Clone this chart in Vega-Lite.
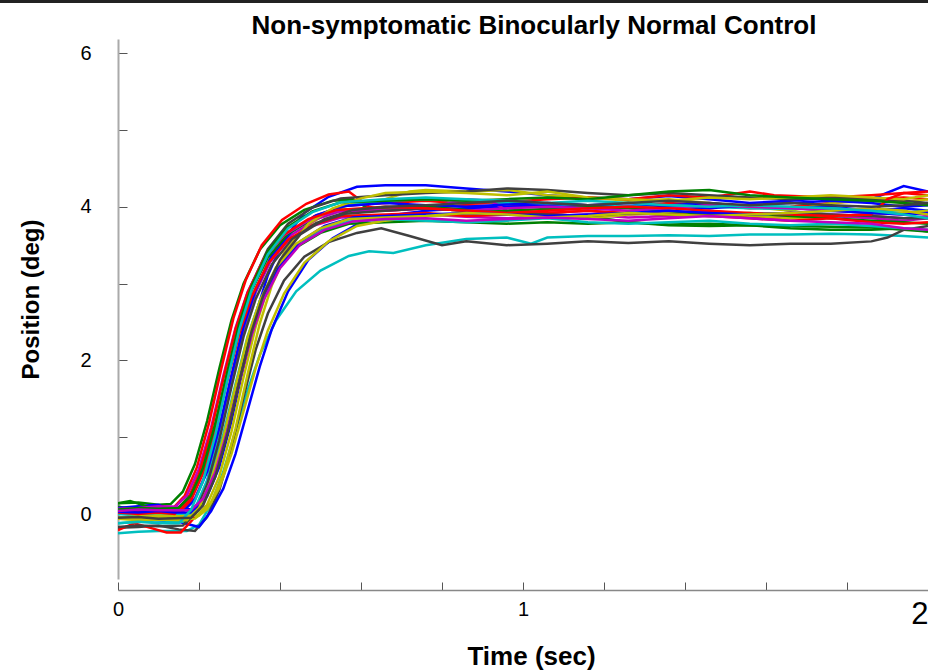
{
"$schema":"https://vega.github.io/schema/vega-lite/v6.json",
"width":810,"height":540,"autosize":"none",
"padding":{"left":118,"top":39,"right":0,"bottom":91},
"background":"white",
"config":{"view":{"stroke":null},"font":"Liberation Sans"},
"title":{"text":"Non-symptomatic Binocularly Normal Control","font":"Liberation Sans","fontSize":26,"fontWeight":"bold","color":"black","anchor":"middle","frame":"group","offset":5,"dx":11,"dy":44},
"datasets":{"traces":[
{"s":1,"c":"b","t":0,"y":0.06},{"s":1,"c":"b","t":0.05,"y":0.07},{"s":1,"c":"b","t":0.1,"y":0.05},{"s":1,"c":"b","t":0.15,"y":0.07},{"s":1,"c":"b","t":0.19,"y":0.06},{"s":1,"c":"b","t":0.22,"y":0.23},{"s":1,"c":"b","t":0.25,"y":0.61},{"s":1,"c":"b","t":0.28,"y":1.21},{"s":1,"c":"b","t":0.31,"y":1.93},{"s":1,"c":"b","t":0.34,"y":2.6},{"s":1,"c":"b","t":0.37,"y":3.11},{"s":1,"c":"b","t":0.41,"y":3.58},{"s":1,"c":"b","t":0.46,"y":3.92},{"s":1,"c":"b","t":0.52,"y":4.13},{"s":1,"c":"b","t":0.59,"y":4.26},{"s":1,"c":"b","t":0.66,"y":4.28},{"s":1,"c":"b","t":0.76,"y":4.28},{"s":1,"c":"b","t":0.86,"y":4.24},{"s":1,"c":"b","t":0.96,"y":4.2},{"s":1,"c":"b","t":1.06,"y":4.15},{"s":1,"c":"b","t":1.16,"y":4.12},{"s":1,"c":"b","t":1.26,"y":4.1},{"s":1,"c":"b","t":1.36,"y":4.14},{"s":1,"c":"b","t":1.46,"y":4.1},{"s":1,"c":"b","t":1.56,"y":4.05},{"s":1,"c":"b","t":1.66,"y":4.08},{"s":1,"c":"b","t":1.76,"y":4.12},{"s":1,"c":"b","t":1.86,"y":4.1},{"s":1,"c":"b","t":1.94,"y":4.27},{"s":1,"c":"b","t":2.0,"y":4.2},
{"s":2,"c":"g","t":0,"y":0.14},{"s":2,"c":"g","t":0.05,"y":0.15},{"s":2,"c":"g","t":0.1,"y":0.12},{"s":2,"c":"g","t":0.13,"y":0.13},{"s":2,"c":"g","t":0.16,"y":0.29},{"s":2,"c":"g","t":0.19,"y":0.65},{"s":2,"c":"g","t":0.22,"y":1.21},{"s":2,"c":"g","t":0.25,"y":1.89},{"s":2,"c":"g","t":0.28,"y":2.52},{"s":2,"c":"g","t":0.31,"y":3.0},{"s":2,"c":"g","t":0.35,"y":3.44},{"s":2,"c":"g","t":0.4,"y":3.76},{"s":2,"c":"g","t":0.46,"y":3.96},{"s":2,"c":"g","t":0.53,"y":4.08},{"s":2,"c":"g","t":0.58,"y":4.1},{"s":2,"c":"g","t":0.62,"y":3.97},{"s":2,"c":"g","t":0.66,"y":3.96},{"s":2,"c":"g","t":0.76,"y":3.98},{"s":2,"c":"g","t":0.86,"y":3.95},{"s":2,"c":"g","t":0.96,"y":3.92},{"s":2,"c":"g","t":1.06,"y":3.9},{"s":2,"c":"g","t":1.16,"y":3.88},{"s":2,"c":"g","t":1.26,"y":3.8},{"s":2,"c":"g","t":1.36,"y":3.76},{"s":2,"c":"g","t":1.46,"y":3.75},{"s":2,"c":"g","t":1.56,"y":3.76},{"s":2,"c":"g","t":1.66,"y":3.75},{"s":2,"c":"g","t":1.76,"y":3.74},{"s":2,"c":"g","t":1.86,"y":3.73},{"s":2,"c":"g","t":1.94,"y":3.7},{"s":2,"c":"g","t":2.0,"y":3.68},
{"s":3,"c":"r","t":0,"y":0.07},{"s":3,"c":"r","t":0.05,"y":0.08},{"s":3,"c":"r","t":0.1,"y":0.09},{"s":3,"c":"r","t":0.135,"y":0.07},{"s":3,"c":"r","t":0.165,"y":0.24},{"s":3,"c":"r","t":0.195,"y":0.61},{"s":3,"c":"r","t":0.225,"y":1.19},{"s":3,"c":"r","t":0.255,"y":1.89},{"s":3,"c":"r","t":0.285,"y":2.55},{"s":3,"c":"r","t":0.315,"y":3.04},{"s":3,"c":"r","t":0.355,"y":3.5},{"s":3,"c":"r","t":0.405,"y":3.83},{"s":3,"c":"r","t":0.465,"y":4.04},{"s":3,"c":"r","t":0.52,"y":4.16},{"s":3,"c":"r","t":0.57,"y":4.2},{"s":3,"c":"r","t":0.62,"y":4.0},{"s":3,"c":"r","t":0.66,"y":3.95},{"s":3,"c":"r","t":0.76,"y":3.98},{"s":3,"c":"r","t":0.86,"y":4.02},{"s":3,"c":"r","t":0.96,"y":4.0},{"s":3,"c":"r","t":1.06,"y":4.05},{"s":3,"c":"r","t":1.16,"y":4.02},{"s":3,"c":"r","t":1.26,"y":4.0},{"s":3,"c":"r","t":1.36,"y":4.05},{"s":3,"c":"r","t":1.46,"y":4.02},{"s":3,"c":"r","t":1.56,"y":3.98},{"s":3,"c":"r","t":1.66,"y":4.0},{"s":3,"c":"r","t":1.76,"y":4.05},{"s":3,"c":"r","t":1.86,"y":4.1},{"s":3,"c":"r","t":1.94,"y":4.12},{"s":3,"c":"r","t":2.0,"y":4.1},
{"s":4,"c":"c","t":0,"y":-0.25},{"s":4,"c":"c","t":0.05,"y":-0.23},{"s":4,"c":"c","t":0.1,"y":-0.22},{"s":4,"c":"c","t":0.17,"y":-0.22},{"s":4,"c":"c","t":0.2,"y":-0.14},{"s":4,"c":"c","t":0.23,"y":0.13},{"s":4,"c":"c","t":0.26,"y":0.55},{"s":4,"c":"c","t":0.29,"y":1.08},{"s":4,"c":"c","t":0.32,"y":1.61},{"s":4,"c":"c","t":0.35,"y":2.07},{"s":4,"c":"c","t":0.39,"y":2.52},{"s":4,"c":"c","t":0.44,"y":2.9},{"s":4,"c":"c","t":0.5,"y":3.17},{"s":4,"c":"c","t":0.57,"y":3.36},{"s":4,"c":"c","t":0.62,"y":3.42},{"s":4,"c":"c","t":0.68,"y":3.4},{"s":4,"c":"c","t":0.76,"y":3.5},{"s":4,"c":"c","t":0.86,"y":3.58},{"s":4,"c":"c","t":0.96,"y":3.6},{"s":4,"c":"c","t":1.02,"y":3.52},{"s":4,"c":"c","t":1.06,"y":3.6},{"s":4,"c":"c","t":1.16,"y":3.62},{"s":4,"c":"c","t":1.26,"y":3.62},{"s":4,"c":"c","t":1.36,"y":3.63},{"s":4,"c":"c","t":1.46,"y":3.62},{"s":4,"c":"c","t":1.56,"y":3.64},{"s":4,"c":"c","t":1.66,"y":3.64},{"s":4,"c":"c","t":1.76,"y":3.65},{"s":4,"c":"c","t":1.86,"y":3.64},{"s":4,"c":"c","t":1.94,"y":3.62},{"s":4,"c":"c","t":2.0,"y":3.6},
{"s":5,"c":"m","t":0,"y":0.08},{"s":5,"c":"m","t":0.05,"y":0.09},{"s":5,"c":"m","t":0.1,"y":0.1},{"s":5,"c":"m","t":0.15,"y":0.09},{"s":5,"c":"m","t":0.18,"y":0.23},{"s":5,"c":"m","t":0.21,"y":0.58},{"s":5,"c":"m","t":0.24,"y":1.11},{"s":5,"c":"m","t":0.27,"y":1.76},{"s":5,"c":"m","t":0.3,"y":2.37},{"s":5,"c":"m","t":0.33,"y":2.83},{"s":5,"c":"m","t":0.37,"y":3.25},{"s":5,"c":"m","t":0.42,"y":3.56},{"s":5,"c":"m","t":0.48,"y":3.75},{"s":5,"c":"m","t":0.55,"y":3.86},{"s":5,"c":"m","t":0.66,"y":3.88},{"s":5,"c":"m","t":0.76,"y":3.9},{"s":5,"c":"m","t":0.86,"y":3.87},{"s":5,"c":"m","t":0.96,"y":3.85},{"s":5,"c":"m","t":1.06,"y":3.88},{"s":5,"c":"m","t":1.16,"y":3.9},{"s":5,"c":"m","t":1.26,"y":3.86},{"s":5,"c":"m","t":1.36,"y":3.88},{"s":5,"c":"m","t":1.46,"y":3.9},{"s":5,"c":"m","t":1.56,"y":3.87},{"s":5,"c":"m","t":1.66,"y":3.86},{"s":5,"c":"m","t":1.76,"y":3.88},{"s":5,"c":"m","t":1.86,"y":3.85},{"s":5,"c":"m","t":1.94,"y":3.82},{"s":5,"c":"m","t":2.0,"y":3.85},
{"s":6,"c":"y","t":0,"y":-0.05},{"s":6,"c":"y","t":0.05,"y":-0.04},{"s":6,"c":"y","t":0.1,"y":-0.06},{"s":6,"c":"y","t":0.19,"y":-0.05},{"s":6,"c":"y","t":0.22,"y":0.12},{"s":6,"c":"y","t":0.25,"y":0.49},{"s":6,"c":"y","t":0.28,"y":1.07},{"s":6,"c":"y","t":0.31,"y":1.78},{"s":6,"c":"y","t":0.34,"y":2.44},{"s":6,"c":"y","t":0.37,"y":2.94},{"s":6,"c":"y","t":0.41,"y":3.4},{"s":6,"c":"y","t":0.46,"y":3.73},{"s":6,"c":"y","t":0.52,"y":3.93},{"s":6,"c":"y","t":0.59,"y":4.06},{"s":6,"c":"y","t":0.66,"y":4.1},{"s":6,"c":"y","t":0.72,"y":4.2},{"s":6,"c":"y","t":0.76,"y":4.22},{"s":6,"c":"y","t":0.86,"y":4.2},{"s":6,"c":"y","t":0.96,"y":4.22},{"s":6,"c":"y","t":1.06,"y":4.15},{"s":6,"c":"y","t":1.16,"y":4.12},{"s":6,"c":"y","t":1.26,"y":4.08},{"s":6,"c":"y","t":1.36,"y":4.1},{"s":6,"c":"y","t":1.46,"y":4.05},{"s":6,"c":"y","t":1.56,"y":4.0},{"s":6,"c":"y","t":1.66,"y":3.95},{"s":6,"c":"y","t":1.76,"y":4.05},{"s":6,"c":"y","t":1.86,"y":4.08},{"s":6,"c":"y","t":1.94,"y":4.06},{"s":6,"c":"y","t":2.0,"y":4.1},
{"s":7,"c":"k","t":0,"y":-0.18},{"s":7,"c":"k","t":0.05,"y":-0.17},{"s":7,"c":"k","t":0.1,"y":-0.15},{"s":7,"c":"k","t":0.15,"y":-0.2},{"s":7,"c":"k","t":0.19,"y":-0.22},{"s":7,"c":"k","t":0.22,"y":-0.04},{"s":7,"c":"k","t":0.25,"y":0.31},{"s":7,"c":"k","t":0.28,"y":0.85},{"s":7,"c":"k","t":0.31,"y":1.52},{"s":7,"c":"k","t":0.34,"y":2.14},{"s":7,"c":"k","t":0.37,"y":2.61},{"s":7,"c":"k","t":0.41,"y":3.04},{"s":7,"c":"k","t":0.46,"y":3.35},{"s":7,"c":"k","t":0.52,"y":3.54},{"s":7,"c":"k","t":0.59,"y":3.66},{"s":7,"c":"k","t":0.65,"y":3.72},{"s":7,"c":"k","t":0.72,"y":3.62},{"s":7,"c":"k","t":0.8,"y":3.5},{"s":7,"c":"k","t":0.86,"y":3.55},{"s":7,"c":"k","t":0.96,"y":3.5},{"s":7,"c":"k","t":1.06,"y":3.52},{"s":7,"c":"k","t":1.16,"y":3.55},{"s":7,"c":"k","t":1.26,"y":3.53},{"s":7,"c":"k","t":1.36,"y":3.55},{"s":7,"c":"k","t":1.46,"y":3.52},{"s":7,"c":"k","t":1.56,"y":3.5},{"s":7,"c":"k","t":1.66,"y":3.52},{"s":7,"c":"k","t":1.76,"y":3.52},{"s":7,"c":"k","t":1.86,"y":3.55},{"s":7,"c":"k","t":1.9,"y":3.6},{"s":7,"c":"k","t":1.94,"y":3.7},{"s":7,"c":"k","t":2.0,"y":3.75},
{"s":8,"c":"b","t":0,"y":-0.05},{"s":8,"c":"b","t":0.05,"y":-0.06},{"s":8,"c":"b","t":0.1,"y":-0.08},{"s":8,"c":"b","t":0.15,"y":-0.1},{"s":8,"c":"b","t":0.2,"y":-0.17},{"s":8,"c":"b","t":0.23,"y":0.04},{"s":8,"c":"b","t":0.26,"y":0.33},{"s":8,"c":"b","t":0.29,"y":0.78},{"s":8,"c":"b","t":0.32,"y":1.35},{"s":8,"c":"b","t":0.35,"y":1.92},{"s":8,"c":"b","t":0.38,"y":2.41},{"s":8,"c":"b","t":0.42,"y":2.9},{"s":8,"c":"b","t":0.47,"y":3.31},{"s":8,"c":"b","t":0.53,"y":3.59},{"s":8,"c":"b","t":0.6,"y":3.8},{"s":8,"c":"b","t":0.66,"y":3.88},{"s":8,"c":"b","t":0.76,"y":3.95},{"s":8,"c":"b","t":0.86,"y":3.98},{"s":8,"c":"b","t":0.96,"y":4.0},{"s":8,"c":"b","t":1.06,"y":4.02},{"s":8,"c":"b","t":1.16,"y":3.98},{"s":8,"c":"b","t":1.26,"y":4.0},{"s":8,"c":"b","t":1.36,"y":4.02},{"s":8,"c":"b","t":1.46,"y":4.05},{"s":8,"c":"b","t":1.56,"y":4.0},{"s":8,"c":"b","t":1.66,"y":3.98},{"s":8,"c":"b","t":1.76,"y":4.0},{"s":8,"c":"b","t":1.86,"y":3.95},{"s":8,"c":"b","t":1.94,"y":3.98},{"s":8,"c":"b","t":2.0,"y":3.95},
{"s":9,"c":"g","t":0,"y":0.1},{"s":9,"c":"g","t":0.05,"y":0.04},{"s":9,"c":"g","t":0.1,"y":0.05},{"s":9,"c":"g","t":0.14,"y":-0.1},{"s":9,"c":"g","t":0.17,"y":-0.1},{"s":9,"c":"g","t":0.2,"y":0.06},{"s":9,"c":"g","t":0.23,"y":0.41},{"s":9,"c":"g","t":0.26,"y":0.96},{"s":9,"c":"g","t":0.29,"y":1.63},{"s":9,"c":"g","t":0.32,"y":2.25},{"s":9,"c":"g","t":0.35,"y":2.72},{"s":9,"c":"g","t":0.39,"y":3.15},{"s":9,"c":"g","t":0.44,"y":3.47},{"s":9,"c":"g","t":0.5,"y":3.66},{"s":9,"c":"g","t":0.57,"y":3.78},{"s":9,"c":"g","t":0.66,"y":3.8},{"s":9,"c":"g","t":0.76,"y":3.82},{"s":9,"c":"g","t":0.86,"y":3.8},{"s":9,"c":"g","t":0.96,"y":3.78},{"s":9,"c":"g","t":1.06,"y":3.8},{"s":9,"c":"g","t":1.16,"y":3.78},{"s":9,"c":"g","t":1.26,"y":3.8},{"s":9,"c":"g","t":1.36,"y":3.77},{"s":9,"c":"g","t":1.46,"y":3.78},{"s":9,"c":"g","t":1.56,"y":3.76},{"s":9,"c":"g","t":1.66,"y":3.72},{"s":9,"c":"g","t":1.76,"y":3.7},{"s":9,"c":"g","t":1.86,"y":3.7},{"s":9,"c":"g","t":1.94,"y":3.72},{"s":9,"c":"g","t":2.0,"y":3.68},
{"s":10,"c":"r","t":0,"y":-0.21},{"s":10,"c":"r","t":0.04,"y":-0.12},{"s":10,"c":"r","t":0.08,"y":-0.18},{"s":10,"c":"r","t":0.12,"y":-0.24},{"s":10,"c":"r","t":0.155,"y":-0.24},{"s":10,"c":"r","t":0.185,"y":-0.07},{"s":10,"c":"r","t":0.215,"y":0.32},{"s":10,"c":"r","t":0.245,"y":0.92},{"s":10,"c":"r","t":0.275,"y":1.65},{"s":10,"c":"r","t":0.305,"y":2.33},{"s":10,"c":"r","t":0.335,"y":2.85},{"s":10,"c":"r","t":0.375,"y":3.32},{"s":10,"c":"r","t":0.425,"y":3.66},{"s":10,"c":"r","t":0.485,"y":3.88},{"s":10,"c":"r","t":0.555,"y":4.01},{"s":10,"c":"r","t":0.66,"y":4.05},{"s":10,"c":"r","t":0.76,"y":4.08},{"s":10,"c":"r","t":0.86,"y":4.04},{"s":10,"c":"r","t":0.96,"y":4.06},{"s":10,"c":"r","t":1.06,"y":4.1},{"s":10,"c":"r","t":1.16,"y":4.12},{"s":10,"c":"r","t":1.26,"y":4.1},{"s":10,"c":"r","t":1.36,"y":4.15},{"s":10,"c":"r","t":1.46,"y":4.12},{"s":10,"c":"r","t":1.56,"y":4.2},{"s":10,"c":"r","t":1.62,"y":4.15},{"s":10,"c":"r","t":1.76,"y":4.12},{"s":10,"c":"r","t":1.86,"y":4.15},{"s":10,"c":"r","t":1.94,"y":4.18},{"s":10,"c":"r","t":2.0,"y":4.15},
{"s":11,"c":"c","t":0,"y":-0.12},{"s":11,"c":"c","t":0.05,"y":-0.1},{"s":11,"c":"c","t":0.1,"y":-0.08},{"s":11,"c":"c","t":0.16,"y":-0.1},{"s":11,"c":"c","t":0.19,"y":0.07},{"s":11,"c":"c","t":0.22,"y":0.44},{"s":11,"c":"c","t":0.25,"y":1.02},{"s":11,"c":"c","t":0.28,"y":1.73},{"s":11,"c":"c","t":0.31,"y":2.39},{"s":11,"c":"c","t":0.34,"y":2.89},{"s":11,"c":"c","t":0.38,"y":3.35},{"s":11,"c":"c","t":0.43,"y":3.68},{"s":11,"c":"c","t":0.49,"y":3.88},{"s":11,"c":"c","t":0.56,"y":4.01},{"s":11,"c":"c","t":0.66,"y":4.08},{"s":11,"c":"c","t":0.76,"y":4.1},{"s":11,"c":"c","t":0.86,"y":4.08},{"s":11,"c":"c","t":0.96,"y":4.05},{"s":11,"c":"c","t":1.06,"y":4.04},{"s":11,"c":"c","t":1.16,"y":4.02},{"s":11,"c":"c","t":1.26,"y":4.0},{"s":11,"c":"c","t":1.36,"y":4.02},{"s":11,"c":"c","t":1.46,"y":4.0},{"s":11,"c":"c","t":1.56,"y":3.98},{"s":11,"c":"c","t":1.66,"y":3.97},{"s":11,"c":"c","t":1.76,"y":3.98},{"s":11,"c":"c","t":1.86,"y":3.95},{"s":11,"c":"c","t":1.94,"y":3.92},{"s":11,"c":"c","t":2.0,"y":3.95},
{"s":12,"c":"m","t":0,"y":0.06},{"s":12,"c":"m","t":0.05,"y":0.05},{"s":12,"c":"m","t":0.1,"y":0.08},{"s":12,"c":"m","t":0.16,"y":0.07},{"s":12,"c":"m","t":0.19,"y":0.21},{"s":12,"c":"m","t":0.22,"y":0.56},{"s":12,"c":"m","t":0.25,"y":1.12},{"s":12,"c":"m","t":0.28,"y":1.79},{"s":12,"c":"m","t":0.31,"y":2.42},{"s":12,"c":"m","t":0.34,"y":2.89},{"s":12,"c":"m","t":0.38,"y":3.33},{"s":12,"c":"m","t":0.43,"y":3.64},{"s":12,"c":"m","t":0.49,"y":3.84},{"s":12,"c":"m","t":0.56,"y":3.96},{"s":12,"c":"m","t":0.66,"y":3.95},{"s":12,"c":"m","t":0.76,"y":3.98},{"s":12,"c":"m","t":0.86,"y":4.1},{"s":12,"c":"m","t":0.92,"y":4.08},{"s":12,"c":"m","t":0.96,"y":3.95},{"s":12,"c":"m","t":1.06,"y":3.92},{"s":12,"c":"m","t":1.16,"y":3.95},{"s":12,"c":"m","t":1.26,"y":3.9},{"s":12,"c":"m","t":1.36,"y":3.92},{"s":12,"c":"m","t":1.46,"y":3.95},{"s":12,"c":"m","t":1.56,"y":3.9},{"s":12,"c":"m","t":1.66,"y":3.92},{"s":12,"c":"m","t":1.76,"y":3.9},{"s":12,"c":"m","t":1.86,"y":3.88},{"s":12,"c":"m","t":1.94,"y":3.85},{"s":12,"c":"m","t":2.0,"y":3.88},
{"s":13,"c":"y","t":0,"y":-0.05},{"s":13,"c":"y","t":0.05,"y":-0.06},{"s":13,"c":"y","t":0.1,"y":-0.05},{"s":13,"c":"y","t":0.15,"y":-0.07},{"s":13,"c":"y","t":0.19,"y":-0.06},{"s":13,"c":"y","t":0.22,"y":0.06},{"s":13,"c":"y","t":0.25,"y":0.34},{"s":13,"c":"y","t":0.28,"y":0.78},{"s":13,"c":"y","t":0.31,"y":1.34},{"s":13,"c":"y","t":0.34,"y":1.9},{"s":13,"c":"y","t":0.37,"y":2.39},{"s":13,"c":"y","t":0.41,"y":2.87},{"s":13,"c":"y","t":0.46,"y":3.27},{"s":13,"c":"y","t":0.52,"y":3.55},{"s":13,"c":"y","t":0.59,"y":3.75},{"s":13,"c":"y","t":0.66,"y":3.82},{"s":13,"c":"y","t":0.76,"y":3.88},{"s":13,"c":"y","t":0.86,"y":3.9},{"s":13,"c":"y","t":0.96,"y":3.92},{"s":13,"c":"y","t":1.06,"y":3.88},{"s":13,"c":"y","t":1.16,"y":3.85},{"s":13,"c":"y","t":1.26,"y":3.9},{"s":13,"c":"y","t":1.36,"y":3.92},{"s":13,"c":"y","t":1.46,"y":3.9},{"s":13,"c":"y","t":1.56,"y":3.88},{"s":13,"c":"y","t":1.66,"y":3.85},{"s":13,"c":"y","t":1.76,"y":3.88},{"s":13,"c":"y","t":1.86,"y":3.9},{"s":13,"c":"y","t":1.94,"y":3.92},{"s":13,"c":"y","t":2.0,"y":3.95},
{"s":14,"c":"k","t":0,"y":0.0},{"s":14,"c":"k","t":0.05,"y":0.02},{"s":14,"c":"k","t":0.1,"y":0.03},{"s":14,"c":"k","t":0.15,"y":0.02},{"s":14,"c":"k","t":0.18,"y":0.19},{"s":14,"c":"k","t":0.21,"y":0.56},{"s":14,"c":"k","t":0.24,"y":1.14},{"s":14,"c":"k","t":0.27,"y":1.84},{"s":14,"c":"k","t":0.3,"y":2.5},{"s":14,"c":"k","t":0.33,"y":2.99},{"s":14,"c":"k","t":0.37,"y":3.45},{"s":14,"c":"k","t":0.42,"y":3.78},{"s":14,"c":"k","t":0.48,"y":3.99},{"s":14,"c":"k","t":0.55,"y":4.11},{"s":14,"c":"k","t":0.66,"y":4.15},{"s":14,"c":"k","t":0.76,"y":4.18},{"s":14,"c":"k","t":0.86,"y":4.2},{"s":14,"c":"k","t":0.96,"y":4.24},{"s":14,"c":"k","t":1.06,"y":4.22},{"s":14,"c":"k","t":1.16,"y":4.18},{"s":14,"c":"k","t":1.26,"y":4.15},{"s":14,"c":"k","t":1.36,"y":4.18},{"s":14,"c":"k","t":1.46,"y":4.15},{"s":14,"c":"k","t":1.56,"y":4.12},{"s":14,"c":"k","t":1.66,"y":4.1},{"s":14,"c":"k","t":1.76,"y":4.12},{"s":14,"c":"k","t":1.86,"y":4.1},{"s":14,"c":"k","t":1.94,"y":4.08},{"s":14,"c":"k","t":2.0,"y":4.05},
{"s":15,"c":"b","t":0,"y":0.08},{"s":15,"c":"b","t":0.05,"y":0.1},{"s":15,"c":"b","t":0.1,"y":0.12},{"s":15,"c":"b","t":0.14,"y":0.03},{"s":15,"c":"b","t":0.16,"y":0.03},{"s":15,"c":"b","t":0.19,"y":0.19},{"s":15,"c":"b","t":0.22,"y":0.55},{"s":15,"c":"b","t":0.25,"y":1.12},{"s":15,"c":"b","t":0.28,"y":1.8},{"s":15,"c":"b","t":0.31,"y":2.44},{"s":15,"c":"b","t":0.34,"y":2.92},{"s":15,"c":"b","t":0.38,"y":3.37},{"s":15,"c":"b","t":0.43,"y":3.69},{"s":15,"c":"b","t":0.49,"y":3.89},{"s":15,"c":"b","t":0.56,"y":4.01},{"s":15,"c":"b","t":0.66,"y":4.05},{"s":15,"c":"b","t":0.76,"y":4.02},{"s":15,"c":"b","t":0.86,"y":4.0},{"s":15,"c":"b","t":0.96,"y":4.03},{"s":15,"c":"b","t":1.06,"y":4.05},{"s":15,"c":"b","t":1.16,"y":4.02},{"s":15,"c":"b","t":1.26,"y":4.05},{"s":15,"c":"b","t":1.36,"y":4.0},{"s":15,"c":"b","t":1.46,"y":3.98},{"s":15,"c":"b","t":1.56,"y":4.02},{"s":15,"c":"b","t":1.66,"y":4.05},{"s":15,"c":"b","t":1.76,"y":4.08},{"s":15,"c":"b","t":1.86,"y":4.05},{"s":15,"c":"b","t":1.94,"y":4.0},{"s":15,"c":"b","t":2.0,"y":4.02},
{"s":16,"c":"g","t":0,"y":0.14},{"s":16,"c":"g","t":0.03,"y":0.17},{"s":16,"c":"g","t":0.06,"y":0.12},{"s":16,"c":"g","t":0.1,"y":0.04},{"s":16,"c":"g","t":0.13,"y":0.05},{"s":16,"c":"g","t":0.15,"y":0.08},{"s":16,"c":"g","t":0.18,"y":0.26},{"s":16,"c":"g","t":0.21,"y":0.61},{"s":16,"c":"g","t":0.24,"y":1.15},{"s":16,"c":"g","t":0.27,"y":1.82},{"s":16,"c":"g","t":0.3,"y":2.44},{"s":16,"c":"g","t":0.33,"y":2.91},{"s":16,"c":"g","t":0.37,"y":3.34},{"s":16,"c":"g","t":0.42,"y":3.65},{"s":16,"c":"g","t":0.48,"y":3.84},{"s":16,"c":"g","t":0.55,"y":3.96},{"s":16,"c":"g","t":0.66,"y":3.98},{"s":16,"c":"g","t":0.76,"y":4.0},{"s":16,"c":"g","t":0.86,"y":3.96},{"s":16,"c":"g","t":0.96,"y":3.95},{"s":16,"c":"g","t":1.06,"y":3.97},{"s":16,"c":"g","t":1.16,"y":4.0},{"s":16,"c":"g","t":1.26,"y":3.98},{"s":16,"c":"g","t":1.36,"y":3.95},{"s":16,"c":"g","t":1.46,"y":3.9},{"s":16,"c":"g","t":1.56,"y":3.92},{"s":16,"c":"g","t":1.66,"y":3.88},{"s":16,"c":"g","t":1.76,"y":3.85},{"s":16,"c":"g","t":1.86,"y":3.82},{"s":16,"c":"g","t":1.94,"y":3.8},{"s":16,"c":"g","t":2.0,"y":3.78},
{"s":17,"c":"r","t":0,"y":0.05},{"s":17,"c":"r","t":0.05,"y":0.03},{"s":17,"c":"r","t":0.1,"y":0.04},{"s":17,"c":"r","t":0.15,"y":0.02},{"s":17,"c":"r","t":0.18,"y":0.18},{"s":17,"c":"r","t":0.21,"y":0.53},{"s":17,"c":"r","t":0.24,"y":1.07},{"s":17,"c":"r","t":0.27,"y":1.74},{"s":17,"c":"r","t":0.3,"y":2.36},{"s":17,"c":"r","t":0.33,"y":2.83},{"s":17,"c":"r","t":0.37,"y":3.26},{"s":17,"c":"r","t":0.42,"y":3.57},{"s":17,"c":"r","t":0.48,"y":3.76},{"s":17,"c":"r","t":0.55,"y":3.88},{"s":17,"c":"r","t":0.66,"y":3.9},{"s":17,"c":"r","t":0.76,"y":3.92},{"s":17,"c":"r","t":0.86,"y":3.88},{"s":17,"c":"r","t":0.96,"y":3.9},{"s":17,"c":"r","t":1.06,"y":3.92},{"s":17,"c":"r","t":1.16,"y":3.95},{"s":17,"c":"r","t":1.26,"y":3.92},{"s":17,"c":"r","t":1.36,"y":3.9},{"s":17,"c":"r","t":1.46,"y":3.88},{"s":17,"c":"r","t":1.56,"y":3.85},{"s":17,"c":"r","t":1.66,"y":3.82},{"s":17,"c":"r","t":1.76,"y":3.85},{"s":17,"c":"r","t":1.86,"y":3.8},{"s":17,"c":"r","t":1.94,"y":3.78},{"s":17,"c":"r","t":2.0,"y":3.8},
{"s":18,"c":"c","t":0,"y":0.0},{"s":18,"c":"c","t":0.05,"y":-0.02},{"s":18,"c":"c","t":0.1,"y":0.0},{"s":18,"c":"c","t":0.17,"y":0.0},{"s":18,"c":"c","t":0.2,"y":0.15},{"s":18,"c":"c","t":0.23,"y":0.5},{"s":18,"c":"c","t":0.26,"y":1.04},{"s":18,"c":"c","t":0.29,"y":1.69},{"s":18,"c":"c","t":0.32,"y":2.31},{"s":18,"c":"c","t":0.35,"y":2.77},{"s":18,"c":"c","t":0.39,"y":3.2},{"s":18,"c":"c","t":0.44,"y":3.5},{"s":18,"c":"c","t":0.5,"y":3.7},{"s":18,"c":"c","t":0.57,"y":3.81},{"s":18,"c":"c","t":0.66,"y":3.84},{"s":18,"c":"c","t":0.76,"y":3.82},{"s":18,"c":"c","t":0.86,"y":3.8},{"s":18,"c":"c","t":0.96,"y":3.82},{"s":18,"c":"c","t":1.06,"y":3.85},{"s":18,"c":"c","t":1.16,"y":3.8},{"s":18,"c":"c","t":1.26,"y":3.78},{"s":18,"c":"c","t":1.36,"y":3.8},{"s":18,"c":"c","t":1.46,"y":3.82},{"s":18,"c":"c","t":1.56,"y":3.78},{"s":18,"c":"c","t":1.66,"y":3.76},{"s":18,"c":"c","t":1.76,"y":3.78},{"s":18,"c":"c","t":1.86,"y":3.75},{"s":18,"c":"c","t":1.94,"y":3.72},{"s":18,"c":"c","t":2.0,"y":3.7},
{"s":19,"c":"m","t":0,"y":0.07},{"s":19,"c":"m","t":0.05,"y":0.08},{"s":19,"c":"m","t":0.1,"y":0.1},{"s":19,"c":"m","t":0.14,"y":0.09},{"s":19,"c":"m","t":0.17,"y":0.24},{"s":19,"c":"m","t":0.2,"y":0.59},{"s":19,"c":"m","t":0.23,"y":1.13},{"s":19,"c":"m","t":0.26,"y":1.8},{"s":19,"c":"m","t":0.29,"y":2.42},{"s":19,"c":"m","t":0.32,"y":2.89},{"s":19,"c":"m","t":0.36,"y":3.32},{"s":19,"c":"m","t":0.41,"y":3.63},{"s":19,"c":"m","t":0.47,"y":3.82},{"s":19,"c":"m","t":0.54,"y":3.94},{"s":19,"c":"m","t":0.66,"y":3.96},{"s":19,"c":"m","t":0.76,"y":3.98},{"s":19,"c":"m","t":0.86,"y":3.95},{"s":19,"c":"m","t":0.96,"y":3.98},{"s":19,"c":"m","t":1.06,"y":4.0},{"s":19,"c":"m","t":1.16,"y":3.98},{"s":19,"c":"m","t":1.26,"y":3.95},{"s":19,"c":"m","t":1.36,"y":3.98},{"s":19,"c":"m","t":1.46,"y":4.02},{"s":19,"c":"m","t":1.56,"y":4.0},{"s":19,"c":"m","t":1.66,"y":3.98},{"s":19,"c":"m","t":1.76,"y":3.95},{"s":19,"c":"m","t":1.86,"y":3.92},{"s":19,"c":"m","t":1.94,"y":3.9},{"s":19,"c":"m","t":2.0,"y":3.92},
{"s":20,"c":"y","t":0,"y":-0.05},{"s":20,"c":"y","t":0.05,"y":-0.03},{"s":20,"c":"y","t":0.1,"y":-0.02},{"s":20,"c":"y","t":0.15,"y":-0.03},{"s":20,"c":"y","t":0.2,"y":-0.02},{"s":20,"c":"y","t":0.23,"y":0.15},{"s":20,"c":"y","t":0.26,"y":0.52},{"s":20,"c":"y","t":0.29,"y":1.11},{"s":20,"c":"y","t":0.32,"y":1.82},{"s":20,"c":"y","t":0.35,"y":2.48},{"s":20,"c":"y","t":0.38,"y":2.98},{"s":20,"c":"y","t":0.42,"y":3.44},{"s":20,"c":"y","t":0.47,"y":3.78},{"s":20,"c":"y","t":0.53,"y":3.98},{"s":20,"c":"y","t":0.6,"y":4.11},{"s":20,"c":"y","t":0.66,"y":4.18},{"s":20,"c":"y","t":0.76,"y":4.2},{"s":20,"c":"y","t":0.86,"y":4.18},{"s":20,"c":"y","t":0.96,"y":4.15},{"s":20,"c":"y","t":1.06,"y":4.2},{"s":20,"c":"y","t":1.16,"y":4.12},{"s":20,"c":"y","t":1.26,"y":4.1},{"s":20,"c":"y","t":1.36,"y":4.08},{"s":20,"c":"y","t":1.46,"y":4.12},{"s":20,"c":"y","t":1.56,"y":4.1},{"s":20,"c":"y","t":1.66,"y":4.12},{"s":20,"c":"y","t":1.76,"y":4.15},{"s":20,"c":"y","t":1.86,"y":4.12},{"s":20,"c":"y","t":1.94,"y":4.1},{"s":20,"c":"y","t":2.0,"y":4.15},
{"s":21,"c":"k","t":0,"y":-0.17},{"s":21,"c":"k","t":0.05,"y":-0.15},{"s":21,"c":"k","t":0.1,"y":-0.16},{"s":21,"c":"k","t":0.16,"y":-0.15},{"s":21,"c":"k","t":0.19,"y":0.01},{"s":21,"c":"k","t":0.22,"y":0.38},{"s":21,"c":"k","t":0.25,"y":0.96},{"s":21,"c":"k","t":0.28,"y":1.65},{"s":21,"c":"k","t":0.31,"y":2.31},{"s":21,"c":"k","t":0.34,"y":2.8},{"s":21,"c":"k","t":0.38,"y":3.25},{"s":21,"c":"k","t":0.43,"y":3.58},{"s":21,"c":"k","t":0.49,"y":3.79},{"s":21,"c":"k","t":0.56,"y":3.91},{"s":21,"c":"k","t":0.66,"y":3.95},{"s":21,"c":"k","t":0.76,"y":3.98},{"s":21,"c":"k","t":0.86,"y":3.95},{"s":21,"c":"k","t":0.96,"y":3.92},{"s":21,"c":"k","t":1.06,"y":3.9},{"s":21,"c":"k","t":1.16,"y":3.88},{"s":21,"c":"k","t":1.26,"y":3.92},{"s":21,"c":"k","t":1.36,"y":3.9},{"s":21,"c":"k","t":1.46,"y":3.88},{"s":21,"c":"k","t":1.56,"y":3.9},{"s":21,"c":"k","t":1.66,"y":3.92},{"s":21,"c":"k","t":1.76,"y":3.9},{"s":21,"c":"k","t":1.86,"y":3.88},{"s":21,"c":"k","t":1.94,"y":3.85},{"s":21,"c":"k","t":2.0,"y":3.85},
{"s":22,"c":"r","t":0,"y":0.02},{"s":22,"c":"r","t":0.05,"y":0.0},{"s":22,"c":"r","t":0.1,"y":0.02},{"s":22,"c":"r","t":0.14,"y":0.0},{"s":22,"c":"r","t":0.17,"y":0.16},{"s":22,"c":"r","t":0.2,"y":0.52},{"s":22,"c":"r","t":0.23,"y":1.08},{"s":22,"c":"r","t":0.26,"y":1.76},{"s":22,"c":"r","t":0.29,"y":2.4},{"s":22,"c":"r","t":0.32,"y":2.88},{"s":22,"c":"r","t":0.36,"y":3.32},{"s":22,"c":"r","t":0.41,"y":3.64},{"s":22,"c":"r","t":0.47,"y":3.84},{"s":22,"c":"r","t":0.54,"y":3.96},{"s":22,"c":"r","t":0.66,"y":4.0},{"s":22,"c":"r","t":0.76,"y":3.98},{"s":22,"c":"r","t":0.86,"y":3.95},{"s":22,"c":"r","t":0.96,"y":3.92},{"s":22,"c":"r","t":1.06,"y":3.95},{"s":22,"c":"r","t":1.16,"y":3.98},{"s":22,"c":"r","t":1.26,"y":4.0},{"s":22,"c":"r","t":1.36,"y":3.98},{"s":22,"c":"r","t":1.46,"y":3.95},{"s":22,"c":"r","t":1.56,"y":3.92},{"s":22,"c":"r","t":1.66,"y":3.9},{"s":22,"c":"r","t":1.76,"y":3.88},{"s":22,"c":"r","t":1.86,"y":3.9},{"s":22,"c":"r","t":1.9,"y":4.1},{"s":22,"c":"r","t":1.94,"y":4.18},{"s":22,"c":"r","t":2.0,"y":4.2},
{"s":23,"c":"b","t":0,"y":0.03},{"s":23,"c":"b","t":0.05,"y":0.02},{"s":23,"c":"b","t":0.1,"y":0.04},{"s":23,"c":"b","t":0.14,"y":0.02},{"s":23,"c":"b","t":0.18,"y":0.02},{"s":23,"c":"b","t":0.21,"y":0.18},{"s":23,"c":"b","t":0.24,"y":0.52},{"s":23,"c":"b","t":0.27,"y":1.07},{"s":23,"c":"b","t":0.3,"y":1.73},{"s":23,"c":"b","t":0.33,"y":2.35},{"s":23,"c":"b","t":0.36,"y":2.81},{"s":23,"c":"b","t":0.4,"y":3.24},{"s":23,"c":"b","t":0.45,"y":3.55},{"s":23,"c":"b","t":0.51,"y":3.75},{"s":23,"c":"b","t":0.58,"y":3.86},{"s":23,"c":"b","t":0.66,"y":3.88},{"s":23,"c":"b","t":0.76,"y":3.9},{"s":23,"c":"b","t":0.86,"y":3.92},{"s":23,"c":"b","t":0.96,"y":3.9},{"s":23,"c":"b","t":1.06,"y":3.88},{"s":23,"c":"b","t":1.16,"y":3.9},{"s":23,"c":"b","t":1.26,"y":3.92},{"s":23,"c":"b","t":1.36,"y":3.95},{"s":23,"c":"b","t":1.46,"y":3.92},{"s":23,"c":"b","t":1.56,"y":3.9},{"s":23,"c":"b","t":1.66,"y":3.92},{"s":23,"c":"b","t":1.76,"y":3.95},{"s":23,"c":"b","t":1.86,"y":3.92},{"s":23,"c":"b","t":1.94,"y":3.9},{"s":23,"c":"b","t":2.0,"y":3.92},
{"s":24,"c":"g","t":0,"y":0.06},{"s":24,"c":"g","t":0.05,"y":0.08},{"s":24,"c":"g","t":0.1,"y":0.07},{"s":24,"c":"g","t":0.15,"y":0.08},{"s":24,"c":"g","t":0.18,"y":0.24},{"s":24,"c":"g","t":0.21,"y":0.6},{"s":24,"c":"g","t":0.24,"y":1.17},{"s":24,"c":"g","t":0.27,"y":1.85},{"s":24,"c":"g","t":0.3,"y":2.49},{"s":24,"c":"g","t":0.33,"y":2.97},{"s":24,"c":"g","t":0.37,"y":3.42},{"s":24,"c":"g","t":0.42,"y":3.74},{"s":24,"c":"g","t":0.48,"y":3.94},{"s":24,"c":"g","t":0.55,"y":4.06},{"s":24,"c":"g","t":0.66,"y":4.08},{"s":24,"c":"g","t":0.76,"y":4.1},{"s":24,"c":"g","t":0.86,"y":4.08},{"s":24,"c":"g","t":0.96,"y":4.1},{"s":24,"c":"g","t":1.06,"y":4.12},{"s":24,"c":"g","t":1.16,"y":4.1},{"s":24,"c":"g","t":1.26,"y":4.15},{"s":24,"c":"g","t":1.36,"y":4.2},{"s":24,"c":"g","t":1.46,"y":4.22},{"s":24,"c":"g","t":1.56,"y":4.15},{"s":24,"c":"g","t":1.66,"y":4.12},{"s":24,"c":"g","t":1.76,"y":4.1},{"s":24,"c":"g","t":1.86,"y":4.08},{"s":24,"c":"g","t":1.94,"y":4.05},{"s":24,"c":"g","t":2.0,"y":4.02},
{"s":25,"c":"y","t":0,"y":-0.06},{"s":25,"c":"y","t":0.05,"y":-0.08},{"s":25,"c":"y","t":0.1,"y":-0.07},{"s":25,"c":"y","t":0.17,"y":-0.08},{"s":25,"c":"y","t":0.2,"y":0.08},{"s":25,"c":"y","t":0.23,"y":0.44},{"s":25,"c":"y","t":0.26,"y":0.99},{"s":25,"c":"y","t":0.29,"y":1.66},{"s":25,"c":"y","t":0.32,"y":2.3},{"s":25,"c":"y","t":0.35,"y":2.77},{"s":25,"c":"y","t":0.39,"y":3.21},{"s":25,"c":"y","t":0.44,"y":3.52},{"s":25,"c":"y","t":0.5,"y":3.72},{"s":25,"c":"y","t":0.57,"y":3.84},{"s":25,"c":"y","t":0.66,"y":3.86},{"s":25,"c":"y","t":0.76,"y":3.88},{"s":25,"c":"y","t":0.86,"y":3.92},{"s":25,"c":"y","t":0.96,"y":3.9},{"s":25,"c":"y","t":1.06,"y":3.86},{"s":25,"c":"y","t":1.16,"y":3.88},{"s":25,"c":"y","t":1.26,"y":3.92},{"s":25,"c":"y","t":1.36,"y":3.9},{"s":25,"c":"y","t":1.46,"y":3.88},{"s":25,"c":"y","t":1.56,"y":3.9},{"s":25,"c":"y","t":1.66,"y":3.92},{"s":25,"c":"y","t":1.76,"y":3.95},{"s":25,"c":"y","t":1.86,"y":3.98},{"s":25,"c":"y","t":1.94,"y":3.95},{"s":25,"c":"y","t":2.0,"y":3.9},
{"s":26,"c":"m","t":0,"y":0.04},{"s":26,"c":"m","t":0.05,"y":0.06},{"s":26,"c":"m","t":0.1,"y":0.05},{"s":26,"c":"m","t":0.18,"y":0.05},{"s":26,"c":"m","t":0.21,"y":0.2},{"s":26,"c":"m","t":0.24,"y":0.54},{"s":26,"c":"m","t":0.27,"y":1.08},{"s":26,"c":"m","t":0.3,"y":1.72},{"s":26,"c":"m","t":0.33,"y":2.33},{"s":26,"c":"m","t":0.36,"y":2.79},{"s":26,"c":"m","t":0.4,"y":3.2},{"s":26,"c":"m","t":0.45,"y":3.51},{"s":26,"c":"m","t":0.51,"y":3.7},{"s":26,"c":"m","t":0.58,"y":3.81},{"s":26,"c":"m","t":0.66,"y":3.84},{"s":26,"c":"m","t":0.76,"y":3.85},{"s":26,"c":"m","t":0.86,"y":3.82},{"s":26,"c":"m","t":0.96,"y":3.84},{"s":26,"c":"m","t":1.06,"y":3.86},{"s":26,"c":"m","t":1.16,"y":3.84},{"s":26,"c":"m","t":1.26,"y":3.82},{"s":26,"c":"m","t":1.36,"y":3.85},{"s":26,"c":"m","t":1.46,"y":3.88},{"s":26,"c":"m","t":1.56,"y":3.85},{"s":26,"c":"m","t":1.66,"y":3.82},{"s":26,"c":"m","t":1.76,"y":3.8},{"s":26,"c":"m","t":1.86,"y":3.78},{"s":26,"c":"m","t":1.94,"y":3.72},{"s":26,"c":"m","t":2.0,"y":3.7},
{"s":27,"c":"c","t":0,"y":-0.12},{"s":27,"c":"c","t":0.05,"y":-0.1},{"s":27,"c":"c","t":0.1,"y":-0.12},{"s":27,"c":"c","t":0.15,"y":-0.12},{"s":27,"c":"c","t":0.18,"y":0.05},{"s":27,"c":"c","t":0.21,"y":0.43},{"s":27,"c":"c","t":0.24,"y":1.02},{"s":27,"c":"c","t":0.27,"y":1.74},{"s":27,"c":"c","t":0.3,"y":2.41},{"s":27,"c":"c","t":0.33,"y":2.92},{"s":27,"c":"c","t":0.37,"y":3.38},{"s":27,"c":"c","t":0.42,"y":3.72},{"s":27,"c":"c","t":0.48,"y":3.93},{"s":27,"c":"c","t":0.55,"y":4.06},{"s":27,"c":"c","t":0.66,"y":4.1},{"s":27,"c":"c","t":0.76,"y":4.12},{"s":27,"c":"c","t":0.86,"y":4.1},{"s":27,"c":"c","t":0.96,"y":4.08},{"s":27,"c":"c","t":1.06,"y":4.05},{"s":27,"c":"c","t":1.16,"y":4.08},{"s":27,"c":"c","t":1.26,"y":4.05},{"s":27,"c":"c","t":1.36,"y":4.02},{"s":27,"c":"c","t":1.46,"y":4.0},{"s":27,"c":"c","t":1.56,"y":4.02},{"s":27,"c":"c","t":1.66,"y":4.0},{"s":27,"c":"c","t":1.76,"y":3.98},{"s":27,"c":"c","t":1.86,"y":3.95},{"s":27,"c":"c","t":1.94,"y":3.9},{"s":27,"c":"c","t":2.0,"y":3.85},
{"s":28,"c":"k","t":0,"y":-0.05},{"s":28,"c":"k","t":0.05,"y":-0.04},{"s":28,"c":"k","t":0.1,"y":-0.06},{"s":28,"c":"k","t":0.18,"y":-0.05},{"s":28,"c":"k","t":0.21,"y":0.11},{"s":28,"c":"k","t":0.24,"y":0.48},{"s":28,"c":"k","t":0.27,"y":1.04},{"s":28,"c":"k","t":0.3,"y":1.73},{"s":28,"c":"k","t":0.33,"y":2.38},{"s":28,"c":"k","t":0.36,"y":2.87},{"s":28,"c":"k","t":0.4,"y":3.31},{"s":28,"c":"k","t":0.45,"y":3.64},{"s":28,"c":"k","t":0.51,"y":3.84},{"s":28,"c":"k","t":0.58,"y":3.96},{"s":28,"c":"k","t":0.66,"y":4.0},{"s":28,"c":"k","t":0.76,"y":4.02},{"s":28,"c":"k","t":0.86,"y":4.05},{"s":28,"c":"k","t":0.96,"y":4.08},{"s":28,"c":"k","t":1.06,"y":4.05},{"s":28,"c":"k","t":1.16,"y":4.02},{"s":28,"c":"k","t":1.26,"y":4.05},{"s":28,"c":"k","t":1.36,"y":4.08},{"s":28,"c":"k","t":1.46,"y":4.05},{"s":28,"c":"k","t":1.56,"y":4.02},{"s":28,"c":"k","t":1.66,"y":4.05},{"s":28,"c":"k","t":1.76,"y":4.02},{"s":28,"c":"k","t":1.86,"y":4.0},{"s":28,"c":"k","t":1.94,"y":4.02},{"s":28,"c":"k","t":2.0,"y":4.05}
]},
"layer":[
{"data":{"name":"traces"},
 "mark":{"type":"line","strokeWidth":2.5,"clip":true},
 "encoding":{
  "x":{"field":"t","type":"quantitative","scale":{"domain":[0,2],"nice":false,"zero":false},
   "axis":{"title":"Time (sec)","values":[0,0.2,0.4,0.6,0.8,1,1.2,1.4,1.6,1.8,2],
    "labelExpr":"datum.value == 0 ? '0' : (datum.value == 1 ? '1' : (datum.value == 2 ? '2' : ''))",
    "offset":11,"tickSize":-8,"tickColor":"#555","tickWidth":1,"domainColor":"#888","domainWidth":1.5,
    "grid":false,"labelFont":"Liberation Sans","labelColor":"black",
    "labelFontSize":{"condition":{"test":"datum.value == 2","value":31},"value":20},
    "labelAlign":{"condition":{"test":"datum.value == 2","value":"right"},"value":"center"},
    "labelBaseline":"top","labelPadding":17,"labelOverlap":false,
    "titleFont":"Liberation Sans","titleFontSize":26,"titleFontWeight":"bold","titleColor":"black","titlePadding":14,"titleX":413}},
  "y":{"field":"y","type":"quantitative","scale":{"domain":[-0.846,6.185],"nice":false,"zero":false},
   "axis":{"title":"Position (deg)","values":[0,1,2,3,4,5,6],"format":"d",
    "labelExpr":"datum.value % 2 == 0 ? datum.label : ''",
    "tickSize":-9,"tickColor":"#555","tickWidth":1,"domainColor":"#aaa","domainWidth":2,
    "grid":false,"labelFont":"Liberation Sans","labelColor":"black","labelFontSize":20,"labelPadding":36,
    "titleFont":"Liberation Sans","titleFontSize":24,"titleFontWeight":"bold","titleColor":"black","titlePadding":36,"titleY":260}},
  "color":{"field":"c","type":"nominal","legend":null,
   "scale":{"domain":["b","g","r","c","m","y","k"],"range":["#0000FF","#008000","#FF0000","#00BFBF","#BF00BF","#BFBF00","#404040"]}},
  "detail":{"field":"s","type":"nominal"}
 }},
{"data":{"values":[{}]},
 "mark":{"type":"rule","color":"#222222","strokeWidth":3,"clip":false},
 "encoding":{"x":{"datum":-0.2914,"type":"quantitative"},"x2":{"datum":2},"y":{"datum":6.673,"type":"quantitative"}}}
]
}
